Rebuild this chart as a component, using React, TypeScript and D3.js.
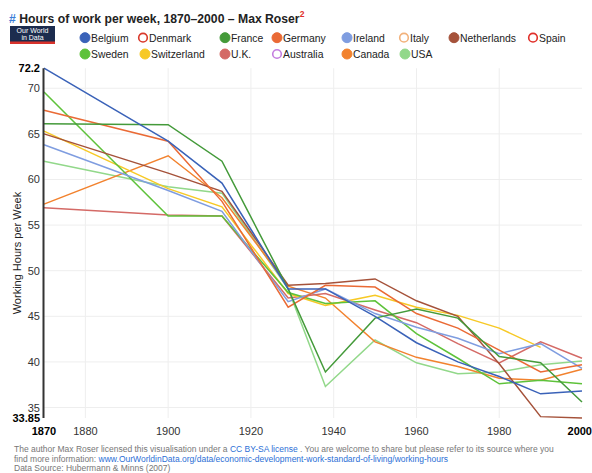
import React from "react";
import * as d3 from "d3";

const YEARS = [1870, 1900, 1913, 1929, 1938, 1950, 1960, 1970, 1980, 1990, 2000];

const belgium = [72.2, 64.2, 59.6, 48.0, 48.0, 45.0, 42.1, 40.0, 38.4, 36.5, 36.8];
const france = [66.1, 66.0, 62.0, 48.0, 38.9, 44.8, 45.8, 44.8, 40.6, 39.9, 35.6];
const germany = [67.6, 64.2, 57.6, 46.0, 48.4, 48.2, 45.3, 43.7, 41.3, 38.9, 39.7];
const ireland = [63.8, 58.8, 56.5, 46.6, 48.0, 45.3, 43.8, 42.6, 40.9, 42.0, 39.3];
const netherlands = [65.0, 60.7, 58.7, 48.4, 48.6, 49.1, 46.7, 45.0, 39.8, 34.0, 33.85];
const sweden = [69.6, 56.0, 56.0, 47.6, 46.4, 46.7, 43.1, 40.4, 37.6, 38.0, 37.6];
const switzerland = [65.3, 59.0, 57.0, 47.5, 46.2, 47.3, 46.0, 45.1, 43.7, 41.6, null];
const uk = [56.9, 56.1, 56.0, 47.0, 47.5, 45.7, 44.3, 42.0, 39.9, 42.2, 40.4];
const canada = [57.3, 62.6, 58.0, 48.3, 47.0, 42.2, 40.5, 39.5, 38.2, 38.0, 39.2];
const usa = [62.0, 59.2, 58.5, 48.0, 37.3, 42.4, 39.9, 38.7, 38.9, 39.7, 40.1];

const LEGEND_ROW1 = ["Belgium", "Denmark", "France", "Germany", "Ireland", "Italy", "Netherlands", "Spain"];
const LEGEND_ROW2 = ["Sweden", "Switzerland", "U.K.", "Australia", "Canada", "USA"];
const DISABLED = ["Denmark", "Italy", "Spain", "Australia"];

const COLORS: Record<string, string> = {
  Belgium: "#3a62b8",
  Denmark: "#d9392b",
  France: "#449a3a",
  Germany: "#ea6a35",
  Ireland: "#7f9de0",
  Italy: "#f2b27c",
  Netherlands: "#a5523a",
  Spain: "#e0302a",
  Sweden: "#5ec23a",
  Switzerland: "#f7c925",
  "U.K.": "#d46a66",
  Australia: "#c47ddf",
  Canada: "#f2822e",
  USA: "#92d88a",
};

const SERIES: { name: string; values: (number | null)[] }[] = [
  { name: "USA", values: usa },
  { name: "Canada", values: canada },
  { name: "U.K.", values: uk },
  { name: "Switzerland", values: switzerland },
  { name: "Sweden", values: sweden },
  { name: "Netherlands", values: netherlands },
  { name: "Ireland", values: ireland },
  { name: "Germany", values: germany },
  { name: "France", values: france },
  { name: "Belgium", values: belgium },
];

const X_TICKS = [1880, 1900, 1920, 1940, 1960, 1980];
const Y_TICKS = [35, 40, 45, 50, 55, 60, 65, 70];
const Y_MIN = 33.85;
const Y_MAX = 72.2;
const X_MIN = 1870;
const X_MAX = 2000;

const LEGEND_X1 = [85, 143, 225, 277, 347, 404, 454, 533];
const LEGEND_X2 = [85, 145, 225, 277, 347, 405];

export default function App() {
  const W = 592;
  const H = 473;
  const x = d3.scaleLinear().domain([X_MIN, X_MAX]).range([44, 582]);
  const y = d3.scaleLinear().domain([Y_MIN, Y_MAX]).range([418, 68.2]);
  const font = "'Liberation Sans', Arial, Helvetica, sans-serif";

  const line = d3
    .line<[number, number | null]>()
    .defined((d) => d[1] != null)
    .x((d) => x(d[0]))
    .y((d) => y(d[1] as number));

  const legendItem = (name: string, cx: number, cy: number) => {
    const disabled = DISABLED.includes(name);
    return (
      <g key={name}>
        <circle
          cx={cx}
          cy={cy}
          r={disabled ? 4.3 : 5}
          fill={disabled ? "#fff" : COLORS[name]}
          stroke={COLORS[name]}
          strokeWidth={disabled ? 1.6 : 1}
        />
        <text x={cx + 6} y={cy + 3.8} fontSize={10.4} fill="#222">
          {name}
        </text>
      </g>
    );
  };

  return (
    <svg
      width={W}
      height={H}
      style={{ position: "absolute", left: 0, top: 0, background: "#fff" }}
      fontFamily={font}
    >
      {/* Title */}
      <text x={9} y={23} fontSize={12.2} fontWeight="bold" fill="#222">
        <tspan fill="#3b7dd8">#</tspan>
        <tspan> Hours of work per week, 1870–2000 – Max Roser</tspan>
        <tspan fill="#e0302a" fontSize={8.5} dy={-6}>2</tspan>
      </text>

      {/* Logo */}
      <rect x={10} y={26} width={45} height={17} fill="#1c2c4e" />
      <rect x={10} y={41.5} width={45} height={2.5} fill="#d8322b" />
      <text x={32.5} y={32.5} fontSize={7} fill="#fff" textAnchor="middle">Our World</text>
      <text x={32.5} y={39.5} fontSize={7} fill="#fff" textAnchor="middle">in Data</text>

      {/* Legend */}
      {LEGEND_ROW1.map((n, i) => legendItem(n, LEGEND_X1[i], 37.7))}
      {LEGEND_ROW2.map((n, i) => legendItem(n, LEGEND_X2[i], 54))}

      {/* Grid */}
      {Y_TICKS.map((t) => (
        <line key={"gy" + t} x1={44} x2={582} y1={y(t)} y2={y(t)} stroke="#eeeeee" strokeWidth={1} />
      ))}
      {X_TICKS.map((t) => (
        <line key={"gx" + t} x1={x(t)} x2={x(t)} y1={y(Y_MAX)} y2={y(Y_MIN)} stroke="#eeeeee" strokeWidth={1} />
      ))}

      {/* Lines */}
      {SERIES.map((s) => (
        <path
          key={s.name}
          d={line(YEARS.map((yr, i) => [yr, s.values[i]] as [number, number | null])) || ""}
          fill="none"
          stroke={COLORS[s.name]}
          strokeWidth={1.5}
        />
      ))}

      {/* Y axis */}
      <line x1={43.5} x2={43.5} y1={y(Y_MAX)} y2={y(Y_MIN)} stroke="#333" strokeWidth={2} />
      {Y_TICKS.map((t) => (
        <text key={"ty" + t} x={40} y={y(t) + 4} fontSize={11} textAnchor="end" fill="#333">
          {t}
        </text>
      ))}
      <text x={40} y={y(Y_MAX) + 4} fontSize={11} fontWeight="bold" textAnchor="end" fill="#000">
        {Y_MAX}
      </text>
      <text x={40} y={y(Y_MIN) + 4} fontSize={11} fontWeight="bold" textAnchor="end" fill="#000">
        {Y_MIN}
      </text>
      <text
        transform={`translate(21,${(y(Y_MIN) + y(Y_MAX)) / 2 + 10}) rotate(-90)`}
        fontSize={11}
        textAnchor="middle"
        fill="#222"
      >
        Working Hours per Week
      </text>

      {/* X axis labels */}
      {X_TICKS.map((t) => (
        <text key={"tx" + t} x={x(t)} y={435} fontSize={11} textAnchor="middle" fill="#333">
          {t}
        </text>
      ))}
      <text x={x(X_MIN)} y={435} fontSize={11} fontWeight="bold" textAnchor="middle" fill="#000">
        {X_MIN}
      </text>
      <text x={W} y={435} fontSize={11} fontWeight="bold" textAnchor="end" fill="#000">
        {X_MAX}
      </text>

      {/* Footer */}
      <g fontSize={8.5} fill="#777">
        <text x={14} y={452}>
          The author Max Roser licensed this visualisation under a{" "}
          <tspan fill="#2b6fd6">CC BY-SA license</tspan> . You are welcome to share but please refer to its source where you
        </text>
        <text x={14} y={462}>
          find more information:{" "}
          <tspan fill="#2b6fd6">www.OurWorldinData.org/data/economic-development-work-standard-of-living/working-hours</tspan>
        </text>
        <text x={14} y={471}>Data Source: Hubermann &amp; Minns (2007)</text>
      </g>
    </svg>
  );
}
